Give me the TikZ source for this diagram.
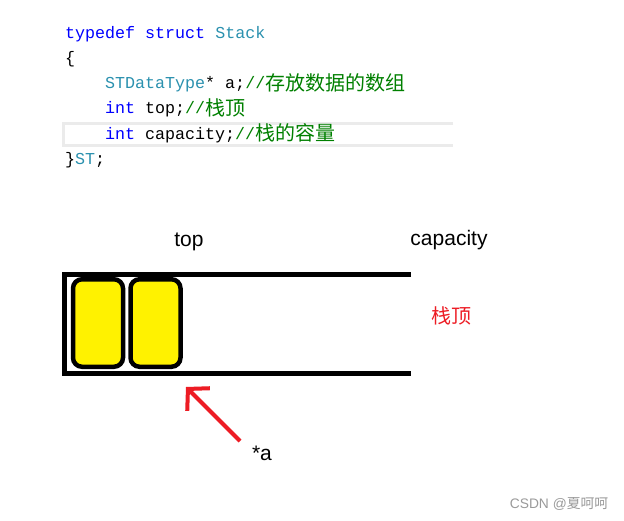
\documentclass[tikz,border=0pt]{standalone}
\usepackage{fontspec}
\setmainfont{Liberation Sans}
\setmonofont{Liberation Mono}
\newfontfamily\cjk{Noto Sans CJK SC}
\usetikzlibrary{arrows.meta}
\definecolor{kw}{HTML}{0000FF}
\definecolor{ty}{HTML}{2B91AF}
\definecolor{cm}{HTML}{008000}
\definecolor{hl}{HTML}{EBEBEB}
\definecolor{pred}{HTML}{ED1C24}
\definecolor{wm}{HTML}{9A9A9A}
\newcommand{\zh}[1]{\raisebox{-1.5pt}{\fontsize{20}{20}\selectfont\cjk #1}}
\tikzset{
  codeline/.style={anchor=base west, inner sep=0pt, font=\ttfamily\fontsize{16.67}{20}\selectfont},
  label/.style={inner sep=0pt, font=\fontsize{21}{24}\selectfont},
  cell/.style={draw=black, line width=4.5pt, fill=yellow, rounded corners=9pt},
  wall/.style={line width=5pt, draw=black},
  redarrow/.style={draw=pred, line width=4pt, -{Straight Barb[length=15pt,width=32pt,line width=4pt]}}
}
\begin{document}
\begin{tikzpicture}[x=1pt,y=-1pt]
\useasboundingbox[fill=white] (0,0) rectangle (624,520);
% highlighted current line
\draw[hl, line width=2.5pt] (453,123.5) -- (63.5,123.5) -- (63.5,145.5) -- (453,145.5);
% code
\node[codeline] (l1) at (65,38) {\color{kw}typedef struct \color{ty}Stack};
\node[codeline] (l2) at (65,63.3) {\color{black}\{};
\node[codeline] (l3) at (105,88.6) {\color{ty}STDataType\color{black}* a;\color{cm}//\zh{存放数据的数组}};
\node[codeline] (l4) at (105,113.9) {\color{kw}int \color{black}top;\color{cm}//\zh{栈顶}};
\node[codeline] (l5) at (105,139.2) {\color{kw}int \color{black}capacity;\color{cm}//\zh{栈的容量}};
\node[codeline] (l6) at (65,164.5) {\color{black}\}\color{ty}ST\color{black};};
% labels
\node[label] (top) at (189,242) {top};
\node[label] (cap) at (449,240) {capacity};
\node[label, text=pred] (zd) at (451,316) {{\fontsize{20}{20}\selectfont\cjk 栈顶}};
\node[label] (stara) at (262,453) {*a};
% container
\coordinate (tr) at (411,274);
\coordinate (tl) at (64.5,274);
\coordinate (bl) at (64.5,373.5);
\coordinate (br) at (411,373.5);
\draw[wall] (tr) -- (tl) -- (bl) -- (br);
% cells
\node[cell, minimum width=50pt, minimum height=87.5pt, inner sep=0pt] (c1) at (98,323) {};
\node[cell, minimum width=50pt, minimum height=87.5pt, inner sep=0pt] (c2) at (155.5,323) {};
% red arrow
\coordinate (tail) at (240,441);
\coordinate (tip) at (186,387);
\draw[redarrow] (tail) -- (tip);
% watermark
\node[inner sep=0pt, text=wm, font=\fontsize{13.8}{15}\selectfont] (wmk) at (559,504) {CSDN @{\cjk 夏呵呵}};
\end{tikzpicture}
\end{document}
